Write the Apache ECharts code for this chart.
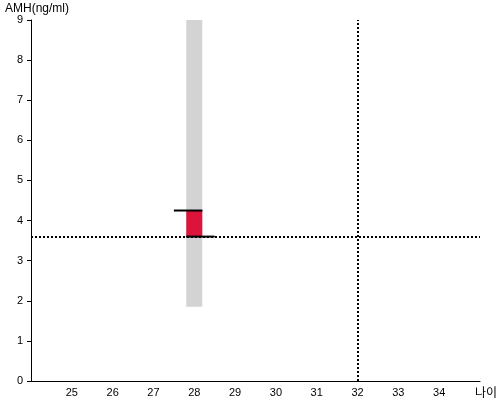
<!DOCTYPE html>
<html><head><meta charset="utf-8">
<script src="https://cdn.jsdelivr.net/npm/echarts@6/dist/echarts.min.js"></script>
<style>html,body{margin:0;padding:0;background:#fff}#c{width:500px;height:400px}</style>
</head><body><div id="c"></div>
<script>
const xMin = 24, xMax = 35;
const yMin = 0, yMax = 9;
const rangeBar = [[28, 1.85, 9]];      // [age, low, high] gray reference range
const valueBar = [[28, 3.6, 4.25]];    // [age, low, high] red measured range
const topLine = [[27.5, 4.25], [28.2, 4.25]];
const bottomLine = [[27.8, 3.6], [28.5, 3.6]];
const refAge = 32;
const refAmh = 3.6;

function rectItem(color) {
  return function (params, api) {
    const x = api.value(0), lo = api.value(1), hi = api.value(2);
    const p1 = api.coord([x, hi]);
    const p2 = api.coord([x, lo]);
    const w = 16;
    return { type: 'rect', shape: { x: p1[0] - w / 2, y: p1[1], width: w, height: p2[1] - p1[1] }, style: { fill: color } };
  };
}

const chart = echarts.init(document.getElementById('c'));
chart.setOption({
  animation: false,
  grid: { left: 31, right: 20, top: 20, bottom: 19, containLabel: false, outerBoundsMode: 'none' },
  xAxis: {
    type: 'value', min: xMin, max: xMax, interval: 1,
    name: '나이', nameLocation: 'end', nameGap: -5,
    nameTextStyle: { fontFamily: 'Noto Sans CJK KR', fontSize: 12, color: '#000', verticalAlign: 'top', padding: [5, 0, 0, 0] },
    axisLine: { lineStyle: { color: '#000', width: 1 } },
    axisTick: { show: false },
    splitLine: { show: false },
    axisLabel: { color: '#000', fontFamily: 'Liberation Sans', fontSize: 11, margin: 6,
      formatter: v => (v === xMin || v === xMax) ? '' : String(v) }
  },
  yAxis: {
    type: 'value', min: yMin, max: yMax, interval: 1,
    name: 'AMH(ng/ml)', nameLocation: 'end', nameGap: 4,
    nameTextStyle: { fontFamily: 'Liberation Sans', fontSize: 12, color: '#000', align: 'left', padding: [0, 0, 0, -26] },
    axisLine: { show: true, lineStyle: { color: '#000', width: 1 } },
    axisTick: { show: true, length: 4, lineStyle: { color: '#000' } },
    splitLine: { show: false },
    axisLabel: { color: '#000', fontFamily: 'Liberation Sans', fontSize: 11, margin: 8 }
  },
  series: [
    { type: 'custom', renderItem: rectItem('#d3d3d3'), data: rangeBar, z: 1 },
    { type: 'custom', renderItem: rectItem('#dc143c'), data: valueBar, z: 2 },
    { type: 'line', data: topLine, symbol: 'none', lineStyle: { color: '#000', width: 2 }, z: 3 },
    { type: 'line', data: bottomLine, symbol: 'none', lineStyle: { color: '#000', width: 2 }, z: 3,
      markLine: {
        silent: true, symbol: 'none', label: { show: false },
        lineStyle: { color: '#000', type: [2, 2], width: 2 },
        data: [{ yAxis: refAmh }, { xAxis: refAge }]
      }
    }
  ]
});
</script></body></html>
